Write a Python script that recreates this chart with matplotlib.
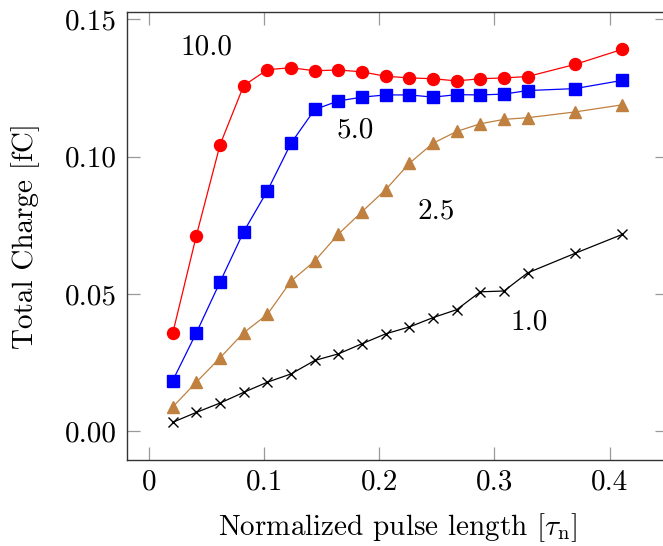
import matplotlib
matplotlib.use("Agg")
import matplotlib.pyplot as plt

plt.rcParams['font.family'] = ['cmr10']
plt.rcParams['mathtext.fontset'] = 'cm'
plt.rcParams['axes.formatter.use_mathtext'] = True

x = [0.0206, 0.0411, 0.0617, 0.0822, 0.1028, 0.1233, 0.1439, 0.1644, 0.1850,
     0.2055, 0.2261, 0.2466, 0.2672, 0.2877, 0.3083, 0.3288, 0.3699, 0.4110]

q_10 = [0.0358, 0.0713, 0.1044, 0.1259, 0.1317, 0.1324, 0.1313, 0.1316, 0.1309,
        0.1293, 0.1287, 0.1284, 0.1276, 0.1284, 0.1287, 0.1292, 0.1336, 0.1391]
q_5 = [0.0185, 0.0359, 0.0544, 0.0727, 0.0876, 0.1049, 0.1172, 0.1203, 0.1217,
       0.1225, 0.1225, 0.1217, 0.1226, 0.1225, 0.1228, 0.1241, 0.1248, 0.1278]
q_25 = [0.0089, 0.0179, 0.0268, 0.0359, 0.0426, 0.0547, 0.0620, 0.0718, 0.0800,
        0.0880, 0.0976, 0.1049, 0.1092, 0.1120, 0.1136, 0.1142, 0.1163, 0.1189]
q_1 = [0.0033, 0.0069, 0.0103, 0.0142, 0.0179, 0.0209, 0.0258, 0.0282, 0.0319,
       0.0355, 0.0380, 0.0414, 0.0443, 0.0508, 0.0511, 0.0577, 0.0648, 0.0717]

labels = ["10.0", "5.0", "2.5", "1.0"]
label_x = [0.0497, 0.179, 0.249, 0.330]
label_y = [0.1400, 0.1096, 0.0800, 0.0398]

xticks = [0, 0.1, 0.2, 0.3, 0.4]
xtick_labels = ["0", "0.1", "0.2", "0.3", "0.4"]
yticks = [0.0, 0.05, 0.10, 0.15]
ytick_labels = ["0.00", "0.05", "0.10", "0.15"]

fig = plt.figure(figsize=(6.63, 5.46), dpi=100)
ax = fig.add_axes([127.3 / 663, 1 - 459.6 / 546, (668.3 - 127.3) / 663, (459.6 - 12) / 546])

lw = 0.9
ax.plot(x, q_10, color='#ff0000', lw=lw, marker='o', ms=8.6, mec='#ff0000', mfc='#ff0000')
ax.plot(x, q_5, color='#0000ff', lw=lw, marker='s', ms=8.0, mec='#0000ff', mfc='#0000ff')
ax.plot(x, q_25, color='#bf8040', lw=lw, marker='^', ms=8.5, mec='#bf8040', mfc='#bf8040')
ax.plot(x, q_1, color='black', lw=lw, marker='x', ms=6.5, mew=1.0)

for t, tx, ty in zip(labels, label_x, label_y):
    ax.text(tx, ty, t, ha='center', va='center', fontsize=21)

ax.set_xlim(-0.0189, 0.451)
ax.set_ylim(-0.0103, 0.1527)
ax.set_xticks(xticks)
ax.set_xticklabels(xtick_labels)
ax.set_yticks(yticks)
ax.set_yticklabels(ytick_labels)

ax.tick_params(direction='in', length=9.5, width=0.9, color='#999999',
               top=True, right=True, labelsize=21)
ax.tick_params(axis='x', pad=7)
ax.tick_params(axis='y', pad=7.5)
for s in ax.spines.values():
    s.set_linewidth(1.0)
    s.set_color('#333333')

ax.set_xlabel(r'Normalized pulse length [$\tau_{\rm n}$]', fontsize=21, labelpad=11)
ax.set_ylabel('Total Charge [fC]', fontsize=21, labelpad=18)

fig.savefig('out.png', dpi=100)
